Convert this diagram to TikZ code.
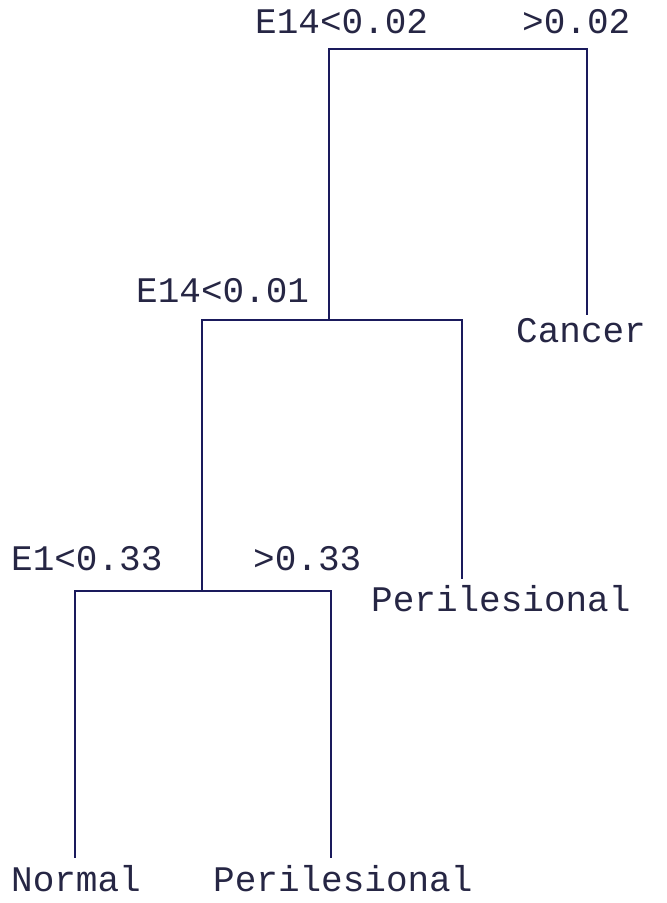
\documentclass[tikz,border=0pt]{standalone}
\usepackage{fontspec}
\setmonofont{Liberation Mono}
\definecolor{treeline}{HTML}{1A1A5C}
\definecolor{treetext}{HTML}{262644}
\begin{document}
\begin{tikzpicture}[x=1bp,y=-1bp,
  lbl/.style={anchor=base west,inner sep=0pt,text=treetext,font=\ttfamily\fontsize{36bp}{36bp}\selectfont},
  edge/.style={draw=treeline,line width=2.9bp,line cap=rect}]
\useasboundingbox[fill=white] (0,0) rectangle (667,903);
% split points
\coordinate (r) at (329,49);
\coordinate (rR) at (587,49);
\coordinate (s) at (329,320);
\coordinate (sL) at (202,320);
\coordinate (sR) at (462,320);
\coordinate (t) at (202,591);
\coordinate (tL) at (75,591);
\coordinate (tR) at (331,591);
\coordinate (cancerEnd) at (587,314);
\coordinate (periAEnd) at (462,578);
\coordinate (normalEnd) at (75,857);
\coordinate (periBEnd) at (331,857);
% labels
\node[lbl] (l1) at (255,33) {E14<0.02};
\node[lbl] (l2) at (522,33) {>0.02};
\node[lbl] (l3) at (136,302) {E14<0.01};
\node[lbl] (l4) at (11,570) {E1<0.33};
\node[lbl] (l5) at (253,570) {>0.33};
\node[lbl] (cancer) at (516,342) {Cancer};
\node[lbl] (periA) at (371,611) {Perilesional};
\node[lbl] (normal) at (11,891) {Normal};
\node[lbl] (periB) at (213,891) {Perilesional};
% edges
\draw[edge] (s) -- (r) -- (rR) -- (cancerEnd);
\draw[edge] (t) -- (sL) -- (sR) -- (periAEnd);
\draw[edge] (normalEnd) -- (tL) -- (tR) -- (periBEnd);
\end{tikzpicture}
\end{document}
